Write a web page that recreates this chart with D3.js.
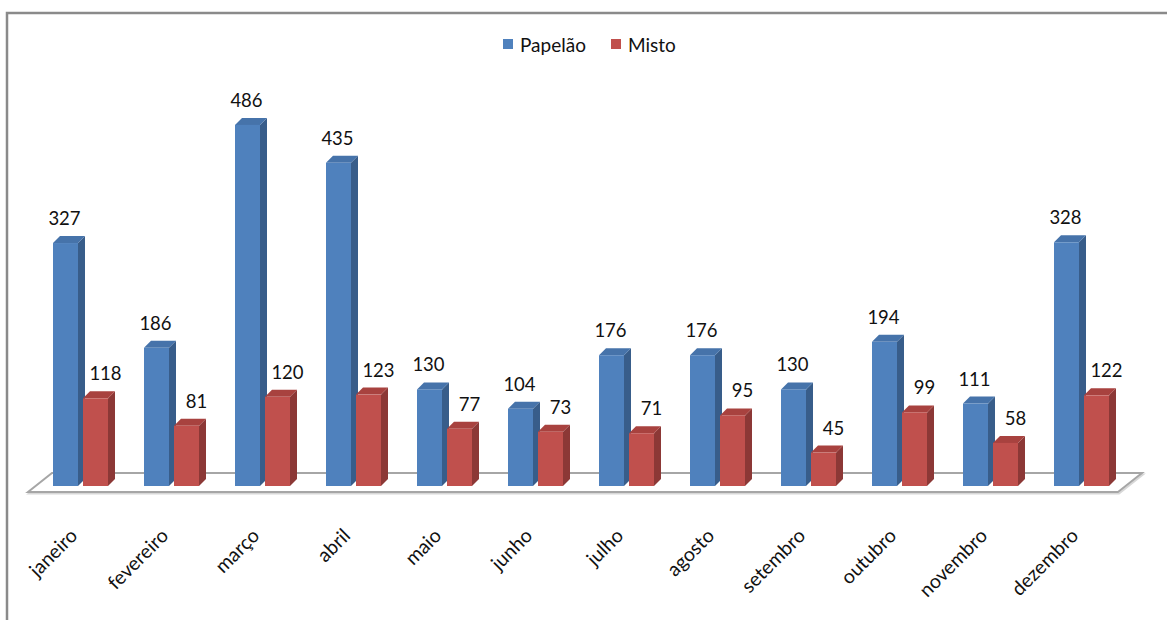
<!DOCTYPE html>
<html lang="pt">
<head>
<meta charset="utf-8">
<script src="https://d3js.org/d3.v7.min.js"></script>
<style>
body { margin: 0; background: #fff; }
text { font-family: Lato, "Open Sans", sans-serif; fill: #111; }
</style>
</head>
<body>
<script>
// dados
var months = ["janeiro", "fevereiro", "março", "abril", "maio", "junho",
              "julho", "agosto", "setembro", "outubro", "novembro", "dezembro"];
var seriesNames = ["Papelão", "Misto"];
var papelao = [327, 186, 486, 435, 130, 104, 176, 176, 130, 194, 111, 328];
var misto   = [118, 81, 120, 123, 77, 73, 71, 95, 45, 99, 58, 122];

var colors = {
  "Papelão": {front: "#4F81BD", side: "#385D8A", top: "#4673AA"},
  "Misto":   {front: "#C0504D", side: "#8C3836", top: "#A8423F"}
};
// deslocamento horizontal dos rotulos de valor
var labelShift = {"Papelão": -1, "Misto": 10};

var W = 1167, H = 620;
var depth = {dx: 7, dy: -7};

var svg = d3.select("body").append("svg")
    .attr("width", W)
    .attr("height", H);

// moldura
svg.append("path")
    .attr("d", "M7,620 L7,13 L1167,13")
    .attr("fill", "none")
    .attr("stroke", "#8a8a8a")
    .attr("stroke-width", 2.5);

var x = d3.scaleBand().domain(months).range([40, 1132]);
var xs = d3.scaleBand().domain(seriesNames).range([13, 68]).paddingInner(1/6);
var y = d3.scaleLinear().domain([0, 500]).range([486, 114.5]);

// chao
var fl = x.range()[0] - 12, fr = x.range()[1] - 14, fy = 492;
svg.append("path")
    .attr("d", "M" + (fl + 1) + "," + (fy + 1.5) + " L" + (fl + 25) + "," + (fy - 17.5) +
               " L" + (fr + 25) + "," + (fy - 17.5) + " L" + (fr + 1) + "," + (fy + 1.5) + "Z")
    .attr("fill", "none")
    .attr("stroke", "#d8d8d8")
    .attr("stroke-width", 2);
svg.append("path")
    .attr("d", "M" + fl + "," + fy + " L" + (fl + 24) + "," + (fy - 19) +
               " L" + (fr + 24) + "," + (fy - 19) + " L" + fr + "," + fy + "Z")
    .attr("fill", "#fff")
    .attr("stroke", "#a6a6a6")
    .attr("stroke-width", 2);

var bars = [];
months.forEach(function(m, i) {
  bars.push({month: m, series: "Papelão", value: papelao[i]});
  bars.push({month: m, series: "Misto", value: misto[i]});
});

var bw = xs.bandwidth();

var g = svg.selectAll(".bar").data(bars).enter().append("g").attr("class", "bar");

g.append("path")
    .attr("fill", function(d) { return colors[d.series].side; })
    .attr("d", function(d) {
      var x0 = x(d.month) + xs(d.series) + bw, y0 = y(d.value), yb = y(0);
      return "M" + x0 + "," + y0 + " L" + (x0 + depth.dx) + "," + (y0 + depth.dy) +
             " L" + (x0 + depth.dx) + "," + (yb + depth.dy) + " L" + x0 + "," + yb + "Z";
    });

g.append("path")
    .attr("fill", function(d) { return colors[d.series].top; })
    .attr("d", function(d) {
      var x0 = x(d.month) + xs(d.series), y0 = y(d.value);
      return "M" + x0 + "," + y0 + " L" + (x0 + depth.dx) + "," + (y0 + depth.dy) +
             " L" + (x0 + bw + depth.dx) + "," + (y0 + depth.dy) + " L" + (x0 + bw) + "," + y0 + "Z";
    });

g.append("rect")
    .attr("x", function(d) { return x(d.month) + xs(d.series); })
    .attr("y", function(d) { return y(d.value); })
    .attr("width", bw)
    .attr("height", function(d) { return y(0) - y(d.value); })
    .attr("fill", function(d) { return colors[d.series].front; });

// rotulos de valor
svg.selectAll(".lbl").data(bars).enter().append("text")
    .attr("class", "lbl")
    .attr("x", function(d) { return x(d.month) + xs(d.series) + bw / 2 + labelShift[d.series]; })
    .attr("y", function(d) { return y(d.value) - 18; })
    .attr("text-anchor", "middle")
    .style("font-size", "18.5px")
    .text(function(d) { return d.value; });

// eixo x
svg.selectAll(".mlbl").data(months).enter().append("text")
    .attr("class", "mlbl")
    .attr("text-anchor", "end")
    .style("font-size", "19.5px")
    .attr("transform", function(m) {
      return "translate(" + (x(m) + x.bandwidth() / 2 - 7) + ",537) rotate(-45)";
    })
    .text(function(m) { return m; });

// legenda
var legend = svg.append("g").attr("transform", "translate(503,39)");
seriesNames.forEach(function(s, i) {
  var row = legend.append("g").attr("transform", "translate(" + (i * 108) + ",0)");
  row.append("rect").attr("width", 10).attr("height", 10).attr("fill", colors[s].front);
  row.append("text").attr("x", 17).attr("y", 13).style("font-size", "19px").text(s);
});
</script>
</body>
</html>
